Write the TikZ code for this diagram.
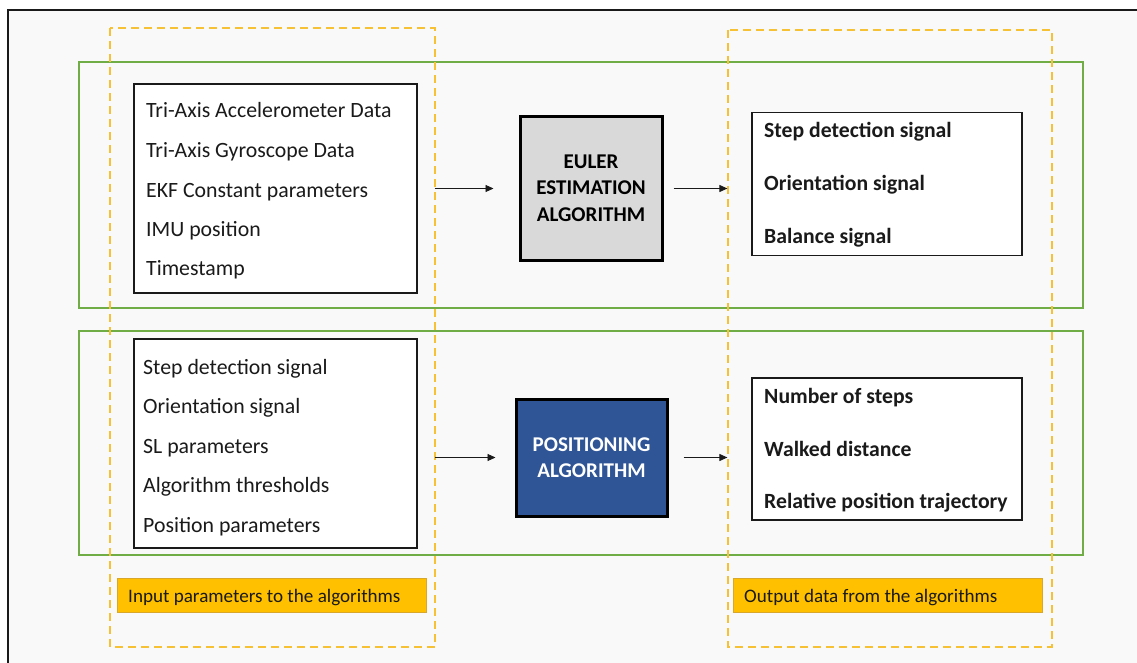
\documentclass[tikz,border=0pt]{standalone}
\usepackage{fontspec}
\setmainfont{Carlito}
\usetikzlibrary{arrows.meta}

\definecolor{pagebg}{HTML}{F9F9F9}
\definecolor{framegreen}{HTML}{70AD47}
\definecolor{dashgold}{HTML}{F7C135}
\definecolor{labelgold}{HTML}{FFC000}
\definecolor{labeledge}{HTML}{D9A82A}
\definecolor{algogray}{HTML}{D9D9D9}
\definecolor{algoblue}{HTML}{2F5597}
\definecolor{inktext}{HTML}{1A1A1A}

\tikzset{
  blockframe/.style={draw=framegreen, line width=1.2pt},
  groupframe/.style={draw=dashgold, line width=1.5pt, dash pattern=on 8pt off 5pt},
  listbox/.style={draw=inktext, line width=1.2pt, fill=white, inner sep=0pt},
  algobox/.style={draw=black, line width=3pt, inner sep=0pt},
  itemtext/.style={anchor=base west, inner sep=0pt, text=inktext, font=\fontsize{21.8}{26}\selectfont},
  boldtext/.style={itemtext, font=\fontsize{21.7}{26}\selectfont\bfseries},
  algotext/.style={anchor=base, inner sep=0pt, font=\fontsize{21}{25}\selectfont\bfseries},
  tagbox/.style={draw=labeledge, line width=1pt, fill=labelgold, inner sep=0pt},
  tagtext/.style={anchor=base west, inner sep=0pt, text=inktext, font=\fontsize{19.1}{23}\selectfont},
  flow/.style={draw=inktext, line width=0.9pt, -{Triangle[length=8pt,width=7pt]}}
}

\begin{document}
\begin{tikzpicture}[x=1pt, y=-1pt]
  % page area
  \useasboundingbox (0,0) rectangle (1137,663);
  \fill[white] (0,0) rectangle (1137,663);
  \fill[pagebg] (8,10) rectangle (1137,663);
  \draw[line width=1.3pt, inktext] (8,663) -- (8,10) -- (1137,10);

  % green frames around the two processing rows
  \draw[blockframe] (79,62) rectangle (1083,308);
  \draw[blockframe] (79,331) rectangle (1083,555);

  % dashed groups: inputs (left) and outputs (right)
  \draw[groupframe] (110,28) rectangle (435,647);
  \draw[groupframe] (728,30) rectangle (1052,647);

  % ---- row 1: Euler estimation ----
  \node[listbox, minimum width=283pt, minimum height=209pt] (in1) at (275.5,188.5) {};
  \node[itemtext] (in1a) at (146,118) {Tri-Axis Accelerometer Data};
  \node[itemtext] (in1b) at (146,158) {Tri-Axis Gyroscope Data};
  \node[itemtext] (in1c) at (146,197) {EKF Constant parameters};
  \node[itemtext] (in1d) at (146,236) {IMU position};
  \node[itemtext] (in1e) at (146,275) {Timestamp};

  \node[algobox, fill=algogray, minimum width=142pt, minimum height=143pt] (euler) at (591,188.5) {};
  \node[algotext] (eulerA) at (591,169) {EULER};
  \node[algotext] (eulerB) at (591,195) {ESTIMATION};
  \node[algotext] (eulerC) at (591,221) {ALGORITHM};

  \node[listbox, minimum width=270pt, minimum height=143pt] (out1) at (887,184) {};
  \node[boldtext] (out1a) at (764,138) {Step detection signal};
  \node[boldtext] (out1b) at (764,191) {Orientation signal};
  \node[boldtext] (out1c) at (764,243) {Balance signal};

  % ---- row 2: positioning ----
  \node[listbox, minimum width=283pt, minimum height=209pt] (in2) at (275.5,443.5) {};
  \node[itemtext] (in2a) at (143,374) {Step detection signal};
  \node[itemtext] (in2b) at (143,413) {Orientation signal};
  \node[itemtext] (in2c) at (143,453) {SL parameters};
  \node[itemtext] (in2d) at (143,492) {Algorithm thresholds};
  \node[itemtext] (in2e) at (143,532) {Position parameters};

  \node[algobox, fill=algoblue, minimum width=151pt, minimum height=117pt] (pos) at (591.5,457.5) {};
  \node[algotext, text=white] (posA) at (591.5,451) {POSITIONING};
  \node[algotext, text=white] (posB) at (591.5,477) {ALGORITHM};

  \node[listbox, minimum width=270pt, minimum height=142pt] (out2) at (887,449) {};
  \node[boldtext] (out2a) at (764,403) {Number of steps};
  \node[boldtext] (out2b) at (764,456) {Walked distance};
  \node[boldtext] (out2c) at (764,508) {Relative position trajectory};

  % ---- connectors ----
  \draw[flow] ([xshift=17pt]in1.east) -- ([xshift=-25pt]euler.west);
  \draw[flow] ([xshift=10pt]euler.east) -- ([xshift=-24pt]out1.west |- euler.east);
  \draw[flow] ([xshift=17pt]in2.east |- pos.west) -- ([xshift=-19pt]pos.west);
  \draw[flow] ([xshift=15pt]pos.east) -- ([xshift=-24pt]out2.west |- pos.east);

  % ---- group captions ----
  \node[tagbox, minimum width=309pt, minimum height=34pt] (tagIn) at (271.5,595) {};
  \node[tagtext] (tagInT) at (128,602) {Input parameters to the algorithms};
  \node[tagbox, minimum width=309pt, minimum height=34pt] (tagOut) at (887.5,595) {};
  \node[tagtext] (tagOutT) at (744,602) {Output data from the algorithms};
\end{tikzpicture}
\end{document}
